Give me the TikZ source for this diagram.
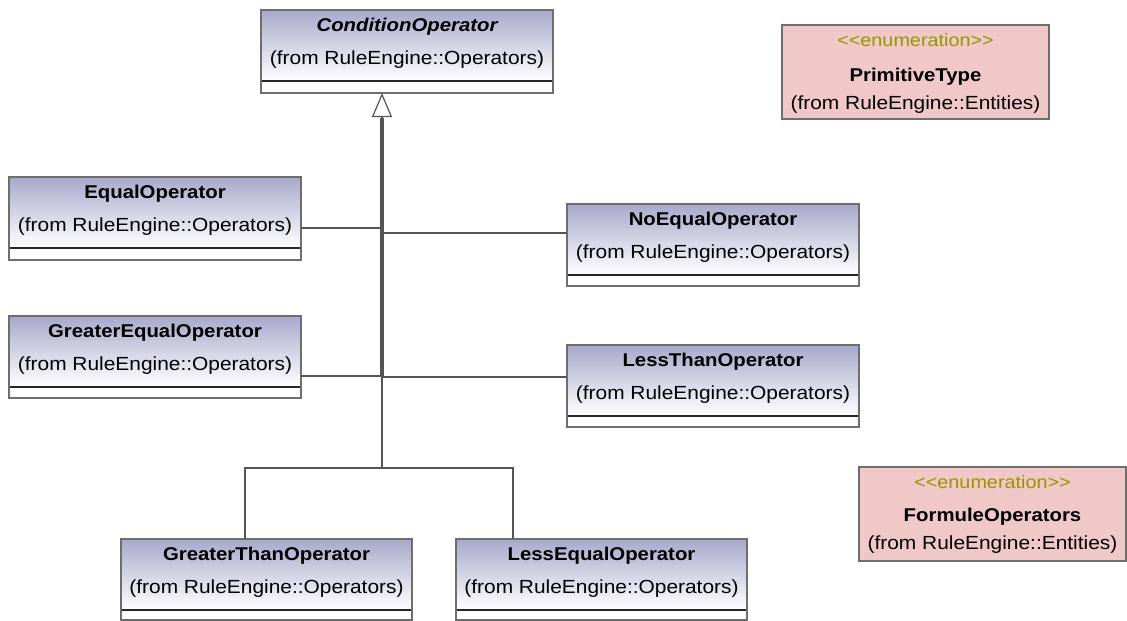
\documentclass[tikz,border=0pt]{standalone}
\usepackage{fontspec}
\setmainfont{Liberation Sans}[FakeStretch=1.1]
\usetikzlibrary{arrows.meta,fit,calc}

\definecolor{clstop}{RGB}{168,168,204}
\definecolor{enumfill}{RGB}{240,200,200}
\definecolor{frame}{RGB}{110,110,110}
\definecolor{wire}{RGB}{85,85,85}
\definecolor{stereo}{RGB}{150,150,0}

\tikzset{
  clsframe/.style={draw=frame, line width=1.2pt, inner sep=0pt, outer sep=0pt},
  enumframe/.style={draw=frame, fill=enumfill, line width=1.2pt, inner sep=0pt, outer sep=0pt},
  divline/.style={draw=black!85, line width=1.3pt},
  clstitle/.style={inner sep=0pt, font=\fontsize{18.5}{20}\selectfont\bfseries},
  clssub/.style={inner sep=0pt, font=\fontsize{19}{21}\selectfont},
  stereotype/.style={inner sep=0pt, text=stereo, font=\fontsize{18}{20}\selectfont},
  wireline/.style={draw=wire, line width=1.3pt},
  generalization/.style={wireline, -{Triangle[length=24pt, width=20pt, fill=white, line width=1.2pt]}},
}

% class box: name, left, top, right, divider, bottom, title, owner
\newcommand\umlclass[8]{%
  \shade[top color=clstop, bottom color=white] (#2,#3) rectangle (#4,#5);
  \fill[white] (#2,#5) rectangle (#4,#6);
  \draw[divline] (#2,#5) -- (#4,#5);
  \node[clsframe, fit={(#2,#3) (#4,#6)}] (#1) {};
  \node[clstitle] (#1-title) at ($(#1.north)+(0,17)$) {#7};
  \node[clssub] (#1-owner) at ($(#1.north)+(0,50)$) {#8};
}

% enumeration box: name, left, top, right, bottom
\newcommand\umlenum[5]{%
  \node[enumframe, fit={(#2,#3) (#4,#5)}] (#1) {};
}

\begin{document}
\begin{tikzpicture}[x=1pt, y=-1pt]
\useasboundingbox (0,0) rectangle (1127,621);

% abstract base class
\umlclass{cond}{261}{10}{553}{81}{93}{\itshape ConditionOperator}{(from RuleEngine::Operators)}

% concrete operators
\umlclass{eq}{9}{177}{301}{248}{260}{EqualOperator}{(from RuleEngine::Operators)}
\umlclass{geq}{9}{316}{301}{387}{398}{GreaterEqualOperator}{(from RuleEngine::Operators)}
\umlclass{neq}{567}{204}{859}{275}{286}{NoEqualOperator}{(from RuleEngine::Operators)}
\umlclass{lt}{567}{345}{859}{416}{427}{LessThanOperator}{(from RuleEngine::Operators)}
\umlclass{gt}{121}{539}{412}{610}{620}{GreaterThanOperator}{(from RuleEngine::Operators)}
\umlclass{leq}{456}{539}{747}{610}{620}{LessEqualOperator}{(from RuleEngine::Operators)}

% enumerations
\umlenum{prim}{782}{25}{1049}{119}
\node[stereotype] (prim-st) at ($(prim.north)+(0,15)$) {<{}<enumeration>{}>};
\node[clstitle] (prim-title) at ($(prim.north)+(0,52)$) {PrimitiveType};
\node[clssub] (prim-owner) at ($(prim.north)+(0,80)$) {(from RuleEngine::Entities)};

\umlenum{formule}{859}{467}{1126}{561}
\node[stereotype] (formule-st) at ($(formule.north)+(0,15)$) {<{}<enumeration>{}>};
\node[clstitle] (formule-title) at ($(formule.north)+(0,50)$) {FormuleOperators};
\node[clssub] (formule-owner) at ($(formule.north)+(0,78)$) {(from RuleEngine::Entities)};

% generalization tree
\path (cond.south west) ++(121,0) coordinate (tip);
\path (tip) ++(0,25) coordinate (base);
\path (tip) ++(0,375) coordinate (fork);
\path ([yshift=-9.5pt]eq.east) coordinate (eqend);
\path ([yshift=-19pt]geq.east) coordinate (geqend);
\path ([yshift=12pt]neq.west) coordinate (neqend);
\path ([yshift=9pt]lt.west) coordinate (ltend);
\path ([xshift=-1pt]base) coordinate (lbase);
\path ([xshift=1pt]base) coordinate (rbase);

\draw[wireline] (eqend) -- (eqend -| lbase) -- (lbase);
\draw[wireline] (geqend) -- (geqend -| lbase) -- (lbase);
\draw[wireline] (neqend) -- (neqend -| rbase) -- (rbase);
\draw[wireline] (ltend) -- (ltend -| rbase) -- (rbase);
\draw[wireline] (gt.north -| {245,0}) -- (fork -| {245,0}) -- (fork -| {513,0}) -- (leq.north -| {513,0});
\draw[generalization] (fork) -- (tip);
\end{tikzpicture}
\end{document}
